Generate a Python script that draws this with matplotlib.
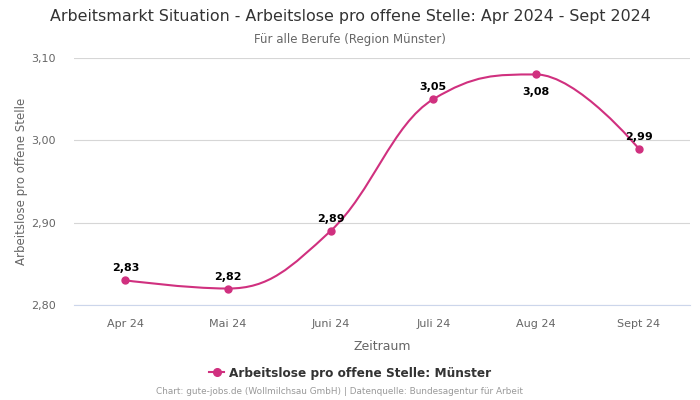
import numpy as np
import matplotlib
matplotlib.use("Agg")
import matplotlib.pyplot as plt
from matplotlib.path import Path
from matplotlib.patches import PathPatch
from matplotlib.lines import Line2D

categories = ["Apr 24", "Mai 24", "Juni 24", "Juli 24", "Aug 24", "Sept 24"]
values = [2.83, 2.82, 2.89, 3.05, 3.08, 2.99]
labels = ["2,83", "2,82", "2,89", "3,05", "3,08", "2,99"]
yticks = [2.80, 2.90, 3.00, 3.10]
ytick_labels = ["2,80", "2,90", "3,00", "3,10"]

color = "#d0307f"

def spline_path(xs, ys, smoothing=1.5):
    denom = smoothing + 1
    verts = [(xs[0], ys[0])]
    codes = [Path.MOVETO]
    n = len(xs)
    ctrl = []
    for i in range(n):
        x, y = xs[i], ys[i]
        if 0 < i < n - 1:
            px, py = xs[i-1], ys[i-1]
            nx, ny = xs[i+1], ys[i+1]
            lcx = (smoothing * x + px) / denom
            lcy = (smoothing * y + py) / denom
            rcx = (smoothing * x + nx) / denom
            rcy = (smoothing * y + ny) / denom
            if rcx != lcx:
                corr = (rcy - lcy) * (rcx - x) / (rcx - lcx) + y - rcy
                lcy += corr
                rcy += corr
                if lcy > py and lcy > y:
                    lcy = max(py, y); rcy = 2 * y - lcy
                elif lcy < py and lcy < y:
                    lcy = min(py, y); rcy = 2 * y - lcy
                if rcy > ny and rcy > y:
                    rcy = max(ny, y); lcy = 2 * y - rcy
                elif rcy < ny and rcy < y:
                    rcy = min(ny, y); lcy = 2 * y - rcy
            ctrl.append(((lcx, lcy), (rcx, rcy)))
        else:
            ctrl.append(((x, y), (x, y)))
    for i in range(1, n):
        verts += [ctrl[i-1][1], ctrl[i][0], (xs[i], ys[i])]
        codes += [Path.CURVE4] * 3
    return Path(verts, codes)

fig = plt.figure(figsize=(7, 4), dpi=100)
ax = fig.add_axes([74/700, 1 - 305/400, (690-74)/700, (305-58)/400])

xs = np.arange(len(categories))
ax.set_xlim(-0.5, len(categories) - 0.5)
ax.set_ylim(2.80, 3.10)

path = spline_path(list(xs), values)
ax.add_patch(PathPatch(path, facecolor="none", edgecolor=color, lw=1.5, zorder=3))
ax.plot(xs, values, "o", color=color, ms=5, zorder=4)

for i, (v, lab) in enumerate(zip(values, labels)):
    if i == 4:
        ax.annotate(lab, (i, v), xytext=(0, -9), textcoords="offset points",
                    ha="center", va="top", fontsize=8, fontweight="bold", color="#000")
    else:
        ax.annotate(lab, (i, v), xytext=(0, 5), textcoords="offset points",
                    ha="center", va="bottom", fontsize=8, fontweight="bold", color="#000")

ax.set_yticks(yticks)
ax.set_yticklabels(ytick_labels)
ax.set_xticks(xs)
ax.set_xticklabels(categories)
ax.tick_params(axis="both", length=0, labelsize=8, colors="#666666")
ax.tick_params(axis="x", pad=10)
ax.tick_params(axis="y", pad=13)
ax.grid(axis="y", color="#d6d6d6", lw=0.8)
ax.set_axisbelow(True)
for s in ["top", "right", "left"]:
    ax.spines[s].set_visible(False)
ax.spines["bottom"].set_color("#ccd6eb")
ax.spines["bottom"].set_linewidth(0.8)

ax.set_xlabel("Zeitraum", fontsize=9, color="#666666", labelpad=8)
ax.set_ylabel("Arbeitslose pro offene Stelle", fontsize=8.5, color="#666666", labelpad=2)

fig.text(0.5, 1 - 17/400, "Arbeitsmarkt Situation - Arbeitslose pro offene Stelle: Apr 2024 - Sept 2024",
         ha="center", va="center", fontsize=11.4, color="#333333")
fig.text(0.5, 1 - 39/400, "Für alle Berufe (Region Münster)", ha="center", va="center",
         fontsize=8.5, color="#666666")

handle = Line2D([], [], color=color, marker="o", ms=5.5, lw=1.5)
fig.legend([handle], ["Arbeitslose pro offene Stelle: Münster"], loc="center",
           bbox_to_anchor=(0.5, 1 - 373/400), frameon=False,
           prop={"weight": "bold", "size": 8.7}, labelcolor="#333333",
           handlelength=1.2, handletextpad=0.4)

fig.text(340/700, 1 - 392/400, "Chart: gute-jobs.de (Wollmilchsau GmbH) | Datenquelle: Bundesagentur für Arbeit",
         ha="center", va="center", fontsize=6.4, color="#999999")

fig.savefig("out.png", dpi=100)
